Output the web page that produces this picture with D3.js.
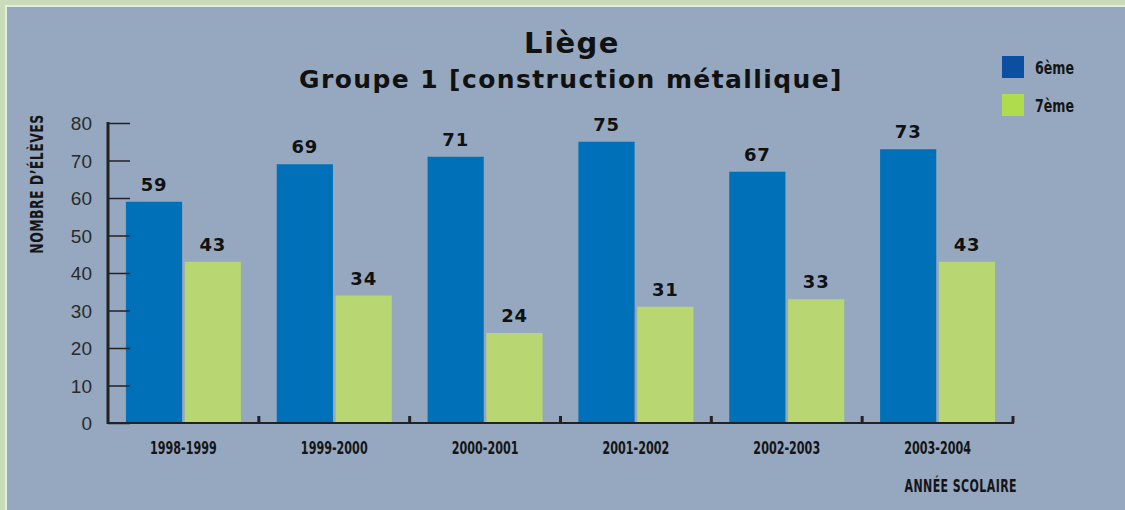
<!DOCTYPE html>
<html>
<head>
<meta charset="utf-8">
<script src="https://cdn.jsdelivr.net/npm/d3@7"></script>
<style>
    body { margin: 0; background: #c9dbb9; }
    svg { display: block; }
    .cond { font-family: "DejaVu Sans Condensed", "Liberation Sans Narrow", "Liberation Sans", sans-serif; font-weight: bold; fill: #151515; }
</style>
</head>
<body>
<div id="chart"></div>
<script>
var categories = ["1998-1999", "1999-2000", "2000-2001", "2001-2002", "2002-2003", "2003-2004"];
var series = ["6ème", "7ème"];
var sixieme = [59, 69, 71, 75, 67, 73];
var septieme = [43, 34, 24, 31, 33, 43];
var yTicks = [0, 10, 20, 30, 40, 50, 60, 70, 80];

var barColors = ["#0070b8", "#b8d672"];
var legendColors = ["#0b4ea2", "#aedc4c"];

var width = 1125, height = 510;
var svg = d3.select("#chart").append("svg")
    .attr("width", width)
    .attr("height", height);

// squeezed text, the original uses a condensed face
function condText(parent, tx, ty, size, squeeze, anchor, str, rot) {
    return parent.append("text")
        .attr("class", "cond")
        .attr("transform", "translate(" + tx + "," + ty + ")" + (rot ? " rotate(" + rot + ")" : "") + " scale(" + squeeze + ",1)")
        .attr("text-anchor", anchor)
        .style("font-size", size + "px")
        .text(str);
}

// panel
svg.append("rect")
    .attr("x", 0).attr("y", 0).attr("width", width).attr("height", height)
    .attr("fill", "#c9dbb9");
svg.append("rect")
    .attr("x", 5).attr("y", 5).attr("width", width - 5).attr("height", height - 5)
    .attr("fill", "#e4ece4");
svg.append("rect")
    .attr("x", 7).attr("y", 7).attr("width", width - 7).attr("height", height - 7)
    .attr("fill", "#95a8c0");

var plotLeft = 108, plotRight = 1013, plotTop = 123, plotBottom = 423;

var x = d3.scaleBand()
    .domain(categories)
    .range([plotLeft, plotRight]);

var x1 = d3.scaleBand()
    .domain([0, 1])
    .range([0, 115])
    .paddingInner(0.045);

var y = d3.scaleLinear()
    .domain([0, 80])
    .range([plotBottom, plotTop]);

// titles
svg.append("text")
    .attr("x", 572).attr("y", 53)
    .attr("text-anchor", "middle")
    .style("font-family", "DejaVu Sans, Arial, sans-serif")
    .style("font-weight", "bold")
    .style("font-size", "29px")
    .style("letter-spacing", "1.5px")
    .style("fill", "#111")
    .text("Liège");
svg.append("text")
    .attr("x", 571).attr("y", 88)
    .attr("text-anchor", "middle")
    .style("font-family", "DejaVu Sans, Arial, sans-serif")
    .style("font-weight", "bold")
    .style("font-size", "25px")
    .style("letter-spacing", "1.4px")
    .style("fill", "#111")
    .text("Groupe 1 [construction métallique]");

// bars
var groups = svg.selectAll(".cat")
    .data(categories)
    .enter().append("g")
    .attr("class", "cat")
    .attr("transform", function (d) {
        return "translate(" + (x(d) + (x.bandwidth() - 115) / 2) + ",0)";
    });

groups.each(function (d, i) {
    var g = d3.select(this);
    var vals = [sixieme[i], septieme[i]];
    vals.forEach(function (v, k) {
        g.append("rect")
            .attr("x", x1(k))
            .attr("y", y(v))
            .attr("width", x1.bandwidth())
            .attr("height", y(0) - y(v))
            .attr("fill", barColors[k]);
        g.append("text")
            .attr("x", x1(k) + x1.bandwidth() / 2)
            .attr("y", y(v) - 11)
            .attr("text-anchor", "middle")
            .style("font-family", "DejaVu Sans, Arial, sans-serif")
            .style("font-weight", "bold")
            .style("font-size", "18px")
            .style("letter-spacing", "0.8px")
            .style("fill", "#111")
            .text(v);
    });
});

// y axis
var yAxis = svg.append("g")
    .attr("transform", "translate(" + plotLeft + ",0)")
    .call(d3.axisRight(y).tickValues(yTicks).tickSize(22).tickFormat(""));
yAxis.select(".domain").remove();
yAxis.selectAll(".tick line").attr("stroke", "#222").attr("stroke-width", 1.5);

svg.append("line")
    .attr("x1", plotLeft).attr("x2", plotLeft)
    .attr("y1", plotTop - 1).attr("y2", plotBottom + 1)
    .attr("stroke", "#222").attr("stroke-width", 3);

svg.selectAll(".ylab")
    .data(yTicks)
    .enter().append("text")
    .attr("class", "ylab")
    .attr("x", 92)
    .attr("y", function (d) { return y(d) + 7; })
    .attr("text-anchor", "end")
    .style("font-family", "Liberation Sans, Arial, sans-serif")
    .style("font-size", "19px")
    .style("fill", "#2a2a2a")
    .text(function (d) { return d; });

// x axis
svg.append("line")
    .attr("x1", plotLeft).attr("x2", plotRight + 1)
    .attr("y1", plotBottom).attr("y2", plotBottom)
    .attr("stroke", "#222").attr("stroke-width", 2);

svg.selectAll(".xtick")
    .data(categories)
    .enter().append("line")
    .attr("class", "xtick")
    .attr("x1", function (d) { return x(d) + x.bandwidth(); })
    .attr("x2", function (d) { return x(d) + x.bandwidth(); })
    .attr("y1", plotBottom - 7).attr("y2", plotBottom)
    .attr("stroke", "#222").attr("stroke-width", 3);

categories.forEach(function (c) {
    condText(svg, x(c) + x.bandwidth() / 2, 454, 18, 0.69, "middle", c);
});

condText(svg, 1017, 492, 18, 0.68, "end", "ANNÉE SCOLAIRE").style("letter-spacing", "0.6px");
condText(svg, 43, 184, 18, 0.77, "middle", "NOMBRE D’ÉLÈVES", -90).style("letter-spacing", "0.6px");

// legend
var legend = svg.selectAll(".legend")
    .data(series)
    .enter().append("g")
    .attr("class", "legend")
    .attr("transform", function (d, i) { return "translate(1002," + (56 + i * 38) + ")"; });
legend.append("rect")
    .attr("width", 22).attr("height", 22)
    .attr("fill", function (d, i) { return legendColors[i]; });
legend.each(function (d) {
    condText(d3.select(this), 33, 18, 18, 0.78, "start", d);
});
</script>
</body>
</html>
